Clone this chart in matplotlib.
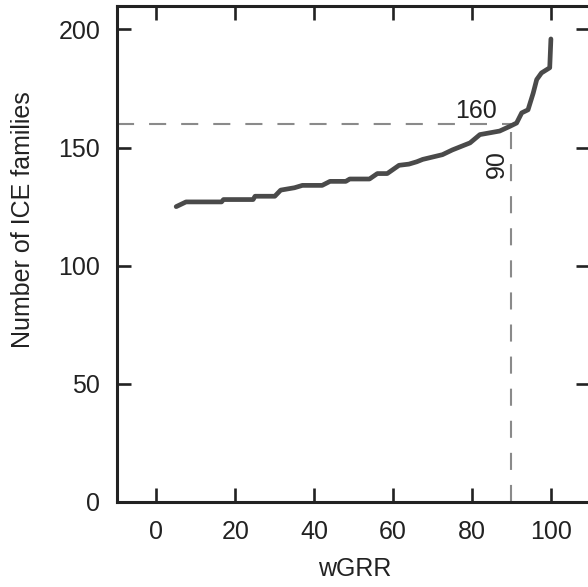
import matplotlib
matplotlib.use("Agg")
import matplotlib.pyplot as plt

# Data
wgrr = [5, 6, 7.5, 16.5, 17, 24.5, 25, 30, 31.5, 35, 37, 42, 44, 48, 49, 54,
        56, 58.5, 61.5, 64, 66, 67.5, 72.5, 75, 79.5, 82, 87, 89.6, 91.3,
        92.6, 94.2, 95.5, 96.4, 97.6, 99.7, 100]
families = [125, 125.8, 127, 127, 128, 128, 129.4, 129.4, 132, 133, 134, 134,
            135.7, 135.7, 136.7, 136.7, 139, 139, 142.5, 143, 144, 145, 147,
            149, 152, 155.5, 157, 159, 160.4, 164.7, 166, 173, 178.8, 181.6,
            183.8, 196]
x_ticks = [0, 20, 40, 60, 80, 100]
y_ticks = [0, 50, 100, 150, 200]
thr_x = 90
thr_y = 160

plt.rcParams['font.family'] = ['Liberation Sans', 'DejaVu Sans']
FS = 18
TXT = '#222222'

fig = plt.figure(figsize=(5.88, 5.87), dpi=100)
ax = fig.add_axes([0.199, 0.145, 0.805, 0.845])

ax.plot(wgrr, families, color='#4a4a4a', lw=3.4, solid_capstyle='round',
        solid_joinstyle='round', zorder=3)
ax.plot([-10, thr_x], [thr_y, thr_y], color='#8a8a8a', lw=1.5,
        dashes=(8.2, 7.2), zorder=2)
ax.plot([thr_x, thr_x], [0, thr_y], color='#8a8a8a', lw=1.5,
        dashes=(8.2, 7.2), zorder=2)
ax.text(81, 160.6, str(thr_y), ha='center', va='bottom', fontsize=FS,
        color=TXT)
ax.text(89.3, 149, str(thr_x), ha='right', va='top', rotation=90,
        fontsize=FS, color=TXT)

ax.set_xlim(-10, 110)
ax.set_ylim(0, 210)
ax.set_xticks(x_ticks)
ax.set_yticks(y_ticks)
ax.tick_params(direction='in', length=10, width=1.9, color='#222222',
               labelsize=FS, labelcolor=TXT, top=True, right=True)
ax.tick_params(axis='x', pad=13)
ax.tick_params(axis='y', pad=12)
for s in ax.spines.values():
    s.set_linewidth(2.2)
    s.set_color('#222222')

ax.set_xlabel('wGRR', fontsize=FS, color=TXT)
ax.set_ylabel('Number of ICE families', fontsize=FS, color=TXT)
ax.xaxis.set_label_coords(0.503, -0.112)
ax.yaxis.set_label_coords(-0.173, 0.57)

fig.savefig('out.png', dpi=100)
